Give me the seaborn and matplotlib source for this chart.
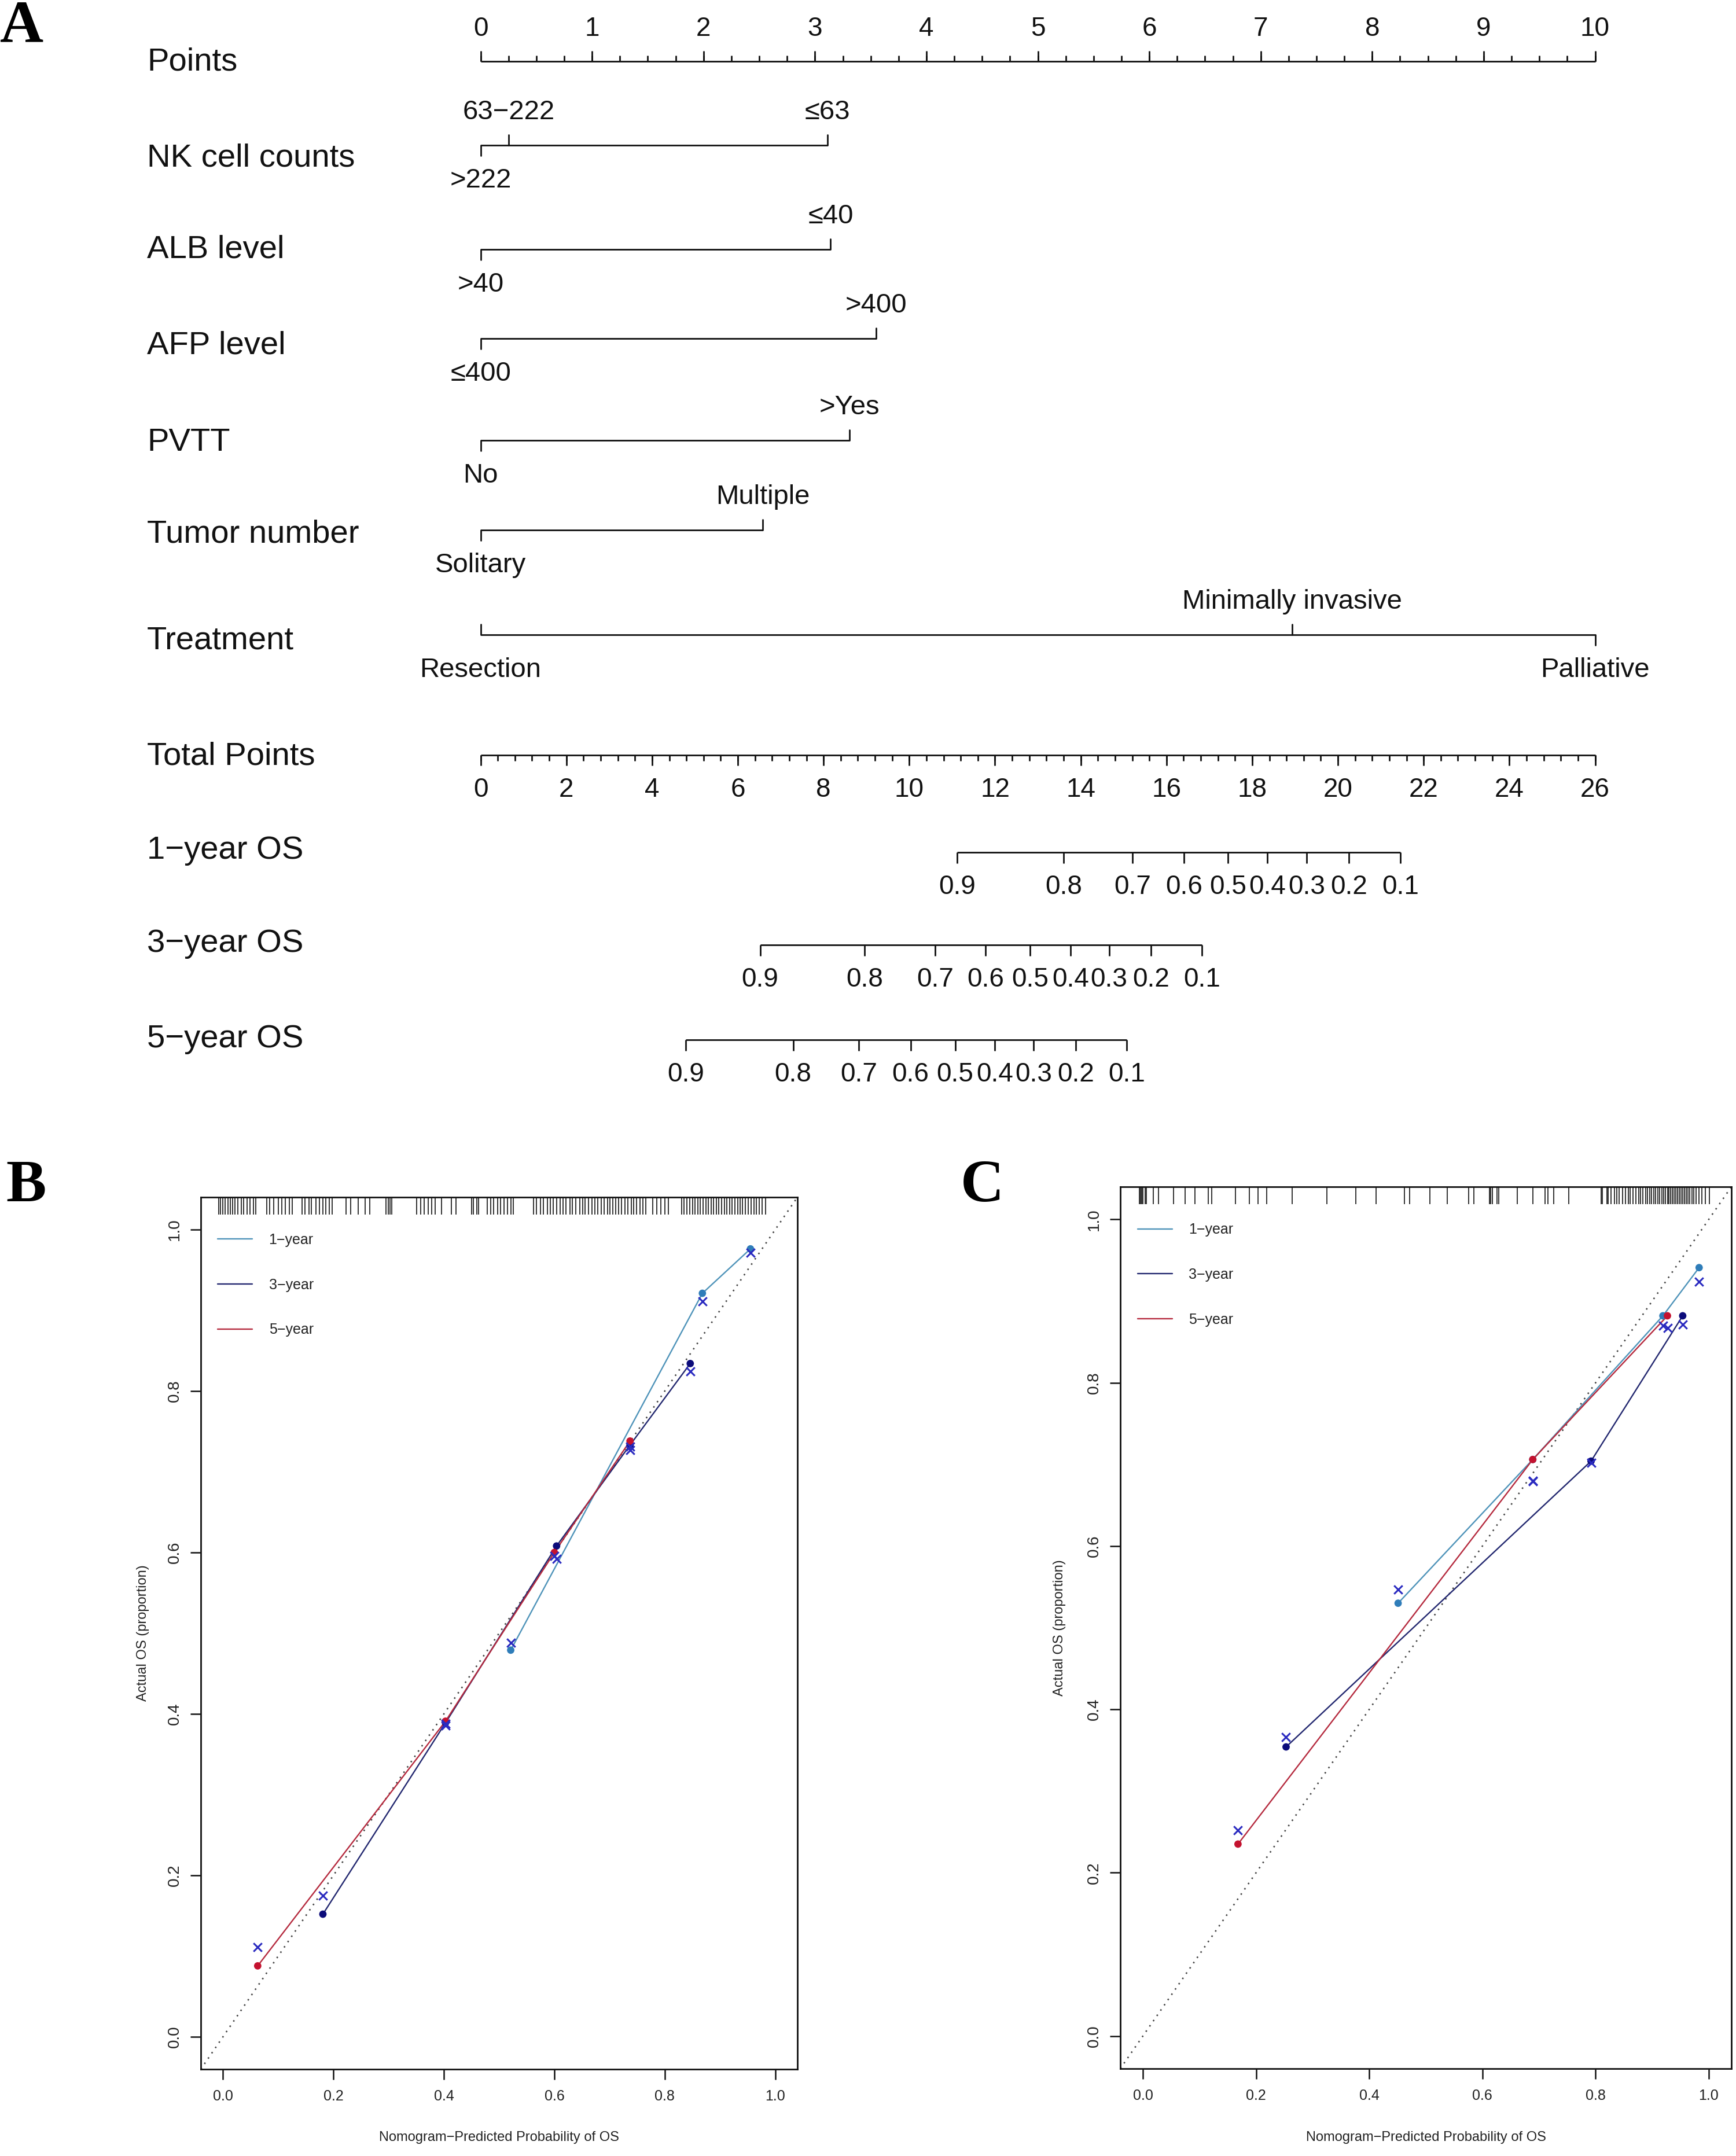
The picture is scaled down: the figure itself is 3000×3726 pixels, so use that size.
import numpy as np
import pandas as pd
import matplotlib
matplotlib.use("Agg")
import matplotlib.pyplot as plt
from matplotlib.ticker import FormatStrFormatter
import seaborn as sns

W, H = 3000, 3726

# ---------------- panel A : nomogram values (points scale 0-10) ----------------
nk_levels = [">222", "63\u2212222", "\u226463"]
nk_points = [0.0, 0.25, 3.11]
alb_levels = [">40", "\u226440"]
alb_points = [0.0, 3.14]
afp_levels = ["\u2264400", ">400"]
afp_points = [0.0, 3.55]
pvtt_levels = ["No", ">Yes"]
pvtt_points = [0.0, 3.31]
tumor_levels = ["Solitary", "Multiple"]
tumor_points = [0.0, 2.53]
treat_levels = ["Resection", "Minimally invasive", "Palliative"]
treat_points = [0.0, 7.28, 10.0]

os_probs = [0.9, 0.8, 0.7, 0.6, 0.5, 0.4, 0.3, 0.2, 0.1]
os1_total = [11.12, 13.60, 15.21, 16.41, 17.43, 18.35, 19.27, 20.26, 21.46]
os3_total = [6.52, 8.96, 10.60, 11.78, 12.82, 13.76, 14.66, 15.64, 16.83]
os5_total = [4.78, 7.29, 8.82, 10.03, 11.07, 12.00, 12.90, 13.88, 15.07]

# ---------------- panels B / C : calibration values ----------------
years = ["1-year", "3-year", "5-year"]

b_pred = {"1-year": [0.521, 0.868, 0.955],
          "3-year": [0.181, 0.403, 0.604, 0.737, 0.846],
          "5-year": [0.063, 0.403, 0.600, 0.737]}
b_obs = {"1-year": [0.479, 0.921, 0.976],
         "3-year": [0.152, 0.389, 0.608, 0.733, 0.834],
         "5-year": [0.088, 0.391, 0.600, 0.738]}
b_corr = {"1-year": [0.488, 0.911, 0.971],
          "3-year": [0.175, 0.386, 0.592, 0.727, 0.824],
          "5-year": [0.111, 0.388, 0.596, 0.731]}

c_pred = {"1-year": [0.451, 0.689, 0.919, 0.983],
          "3-year": [0.253, 0.792, 0.954],
          "5-year": [0.168, 0.689, 0.927]}
c_obs = {"1-year": [0.530, 0.706, 0.882, 0.941],
         "3-year": [0.354, 0.704, 0.882],
         "5-year": [0.235, 0.706, 0.882]}
c_corr = {"1-year": [0.547, 0.680, 0.870, 0.924],
          "3-year": [0.366, 0.702, 0.871],
          "5-year": [0.252, 0.679, 0.867]}

b_rug = [-0.008, -0.004, 0.000, 0.004, 0.009, 0.013, 0.018, 0.022, 0.027, 0.033,
         0.038, 0.044, 0.049, 0.055, 0.060, 0.079, 0.085, 0.092, 0.100, 0.107,
         0.113, 0.120, 0.126, 0.143, 0.149, 0.156, 0.160, 0.168, 0.175, 0.181,
         0.186, 0.193, 0.198, 0.223, 0.231, 0.245, 0.258, 0.266, 0.295, 0.299,
         0.303, 0.306, 0.351, 0.358, 0.364, 0.372, 0.378, 0.384, 0.396, 0.414,
         0.422, 0.450, 0.453, 0.460, 0.463, 0.479, 0.485, 0.490, 0.497, 0.503,
         0.509, 0.515, 0.521, 0.526, 0.562, 0.568, 0.575, 0.580, 0.587, 0.593,
         0.598, 0.604, 0.611, 0.616, 0.621, 0.628, 0.633, 0.639, 0.646, 0.651,
         0.656, 0.662, 0.668, 0.673, 0.679, 0.685, 0.690, 0.696, 0.701, 0.706,
         0.711, 0.716, 0.722, 0.728, 0.733, 0.739, 0.744, 0.749, 0.755, 0.760,
         0.766, 0.778, 0.785, 0.793, 0.800, 0.806, 0.830, 0.835, 0.840, 0.845,
         0.850, 0.855, 0.860, 0.864, 0.869, 0.874, 0.879, 0.884, 0.888, 0.893,
         0.898, 0.903, 0.908, 0.912, 0.917, 0.922, 0.927, 0.932, 0.936, 0.941,
         0.946, 0.951, 0.956, 0.961, 0.966, 0.971, 0.976, 0.982]
c_rug = [-0.006, -0.004, -0.002, 0.000, 0.004, 0.006, 0.018, 0.028, 0.054, 0.075,
         0.092, 0.115, 0.122, 0.164, 0.188, 0.203, 0.219, 0.264, 0.325, 0.376,
         0.412, 0.462, 0.471, 0.507, 0.538, 0.576, 0.585, 0.612, 0.615, 0.618,
         0.626, 0.629, 0.662, 0.689, 0.711, 0.716, 0.726, 0.753, 0.810, 0.812,
         0.820, 0.822, 0.827, 0.833, 0.838, 0.842, 0.848, 0.853, 0.858, 0.861,
         0.866, 0.871, 0.876, 0.879, 0.884, 0.889, 0.892, 0.896, 0.899, 0.903,
         0.906, 0.910, 0.913, 0.917, 0.920, 0.923, 0.927, 0.930, 0.933, 0.936,
         0.939, 0.942, 0.945, 0.948, 0.951, 0.954, 0.957, 0.960, 0.963, 0.966,
         0.970, 0.974, 0.978, 0.983, 0.988, 0.994, 1.001]

line_pal = {"1-year": "#4E93B9", "3-year": "#22276F", "5-year": "#B52A3E"}
dot_pal = {"1-year": "#2F7DB9", "3-year": "#0B0B7A", "5-year": "#C4122F"}
cross_col = "#2B2BC0"

sns.set_theme(style="white")
plt.rcParams["font.family"] = ["Liberation Sans", "DejaVu Sans"]
plt.rcParams["axes.unicode_minus"] = True

fig = plt.figure(figsize=(W / 100, H / 100), dpi=100)


def nx(px):
    # figure pixel column -> nomogram points units
    return (px - 830.6) / 192.59


# ---------------- panel A ----------------
TOP = 1900
axA = fig.add_axes([0, 1 - TOP / H, 1, TOP / H])
axA.set_xlim(nx(0), nx(W))
axA.set_ylim(TOP, 0)
axA.axis("off")

LW = 2.0
K = "#111111"
lab_x = nx(254)
FS_ROW, FS_NUM, FS_CAT = 40.5, 33, 34

# points scale
py = 106
axA.plot([0, 10], [py, py], color=K, lw=LW, solid_capstyle="butt")
axA.vlines(np.arange(0, 10.01, 0.25), py - 10, py, color=K, lw=LW)
axA.vlines(np.arange(0, 11), py - 18, py, color=K, lw=LW)
for v in range(11):
    axA.text(v, 50, str(v), ha="center", va="center", fontsize=FS_NUM, color=K)
axA.text(lab_x, 107, "Points", ha="left", va="center", fontsize=FS_ROW, color=K)

# (title, label y, line y, levels, points, label side, tick side)
variables = [
    ("NK cell counts", 274, 251, nk_levels, nk_points, [-1, 1, 1], [-1, 1, 1]),
    ("ALB level", 432, 431, alb_levels, alb_points, [-1, 1], [-1, 1]),
    ("AFP level", 597, 585, afp_levels, afp_points, [-1, 1], [-1, 1]),
    ("PVTT", 765, 761, pvtt_levels, pvtt_points, [-1, 1], [-1, 1]),
    ("Tumor number", 923, 916, tumor_levels, tumor_points, [-1, 1], [-1, 1]),
    ("Treatment", 1108, 1097, treat_levels, treat_points, [-1, 1, -1], [1, 1, -1]),
]
for title, ly, y, levels, pts, sides, tdir in variables:
    axA.text(lab_x, ly, title, ha="left", va="center", fontsize=FS_ROW, color=K)
    axA.plot([min(pts), max(pts)], [y, y], color=K, lw=LW, solid_capstyle="butt")
    for lev, p, s, t in zip(levels, pts, sides, tdir):
        axA.plot([p, p], [y, y - 18 * t], color=K, lw=LW)
        ty = y - 57 if s > 0 else y + 61
        axA.text(p, ty, lev, ha="center", va="center", fontsize=FS_CAT, color=K)

# total points scale (0-26 mapped on 0-10)
ty0 = 1305
axA.text(lab_x, 1307, "Total Points", ha="left", va="center", fontsize=FS_ROW, color=K)
axA.plot([0, 10], [ty0, ty0], color=K, lw=LW, solid_capstyle="butt")
axA.vlines(np.arange(0, 26.01, 0.4) / 2.6, ty0, ty0 + 10, color=K, lw=LW)
axA.vlines(np.arange(0, 27, 2) / 2.6, ty0, ty0 + 18, color=K, lw=LW)
for v in range(0, 27, 2):
    axA.text(v / 2.6, 1365, str(v), ha="center", va="center", fontsize=FS_NUM, color=K)

os_rows = [("1\u2212year OS", 1470, 1473, os1_total),
           ("3\u2212year OS", 1631, 1633, os3_total),
           ("5\u2212year OS", 1796, 1797, os5_total)]
for title, ly, y, tot in os_rows:
    axA.text(lab_x, ly, title, ha="left", va="center", fontsize=FS_ROW, color=K)
    xs = np.array(tot) / 2.6
    axA.plot([xs.min(), xs.max()], [y, y], color=K, lw=LW, solid_capstyle="butt")
    axA.vlines(xs, y, y + 19, color=K, lw=LW)
    for p, xv in zip(os_probs, xs):
        axA.text(xv, y + 60, f"{p:.1f}", ha="center", va="center", fontsize=FS_NUM, color=K)


# ---------------- panels B and C ----------------
def long_df(pred, obs, corr):
    rows = []
    for yr in years:
        for p, o, c in zip(pred[yr], obs[yr], corr[yr]):
            rows.append({"year": yr, "pred": p, "obs": o, "corr": c})
    return pd.DataFrame(rows)


def calib_panel(rect, pred, obs, corr, rug, ylab_x):
    ax = fig.add_axes(rect)
    df = long_df(pred, obs, corr)
    ax.axline((0, 0), slope=1, color="#444444", lw=1.9, ls=(0, (1, 3.2)), zorder=1)
    sns.lineplot(data=df, x="pred", y="obs", hue="year", hue_order=years,
                 palette=line_pal, sort=False, estimator=None, lw=1.7, ax=ax, zorder=2)
    sns.scatterplot(data=df, x="pred", y="obs", hue="year", hue_order=years,
                    palette=dot_pal, s=85, edgecolor="none", legend=False, ax=ax, zorder=3)
    sns.scatterplot(data=df, x="pred", y="corr", color=cross_col, marker="x",
                    s=110, linewidth=2.2, legend=False, ax=ax, zorder=4)
    ax.vlines(rug, 0.98, 1.0, transform=ax.get_xaxis_transform(),
              color="black", lw=1.4, alpha=0.8)
    ax.set_xlim(-0.04, 1.04)
    ax.set_ylim(-0.04, 1.04)
    ticks = [0.0, 0.2, 0.4, 0.6, 0.8, 1.0]
    ax.set_xticks(ticks)
    ax.set_yticks(ticks)
    ax.xaxis.set_major_formatter(FormatStrFormatter("%.1f"))
    ax.yaxis.set_major_formatter(FormatStrFormatter("%.1f"))
    ax.tick_params(axis="both", which="major", direction="out", bottom=True, left=True,
                   length=13, width=1.8, color="#111111", labelcolor="#222222")
    ax.tick_params(axis="x", labelsize=18, pad=12)
    ax.tick_params(axis="y", labelsize=20, pad=10)
    plt.setp(ax.get_yticklabels(), rotation=90, va="center")
    for sp in ax.spines.values():
        sp.set_visible(True)
        sp.set_color("#111111")
        sp.set_linewidth(2.0)
    ax.set_xlabel("Nomogram\u2212Predicted Probability of OS", fontsize=17, color="#222222")
    ax.set_ylabel("Actual OS (proportion)", fontsize=17, color="#222222")
    ax.xaxis.set_label_coords(0.5, -0.078)
    ax.xaxis.label.set_va("center")
    ax.yaxis.set_label_coords(ylab_x, 0.5)
    ax.yaxis.label.set_va("center")
    handles, labels = ax.get_legend_handles_labels()
    labels = [l.replace("-", "\u2212") for l in labels]
    leg = ax.legend(handles, labels, loc="upper left", bbox_to_anchor=(0.028, 0.959),
                    frameon=False, fontsize=18, handlelength=2.4, handletextpad=1.15,
                    labelspacing=2.15, borderaxespad=0, borderpad=0)
    for t in leg.get_texts():
        t.set_color("#222222")
    return ax


calib_panel([347 / W, 1 - 3576 / H, 1031 / W, 1507 / H], b_pred, b_obs, b_corr, b_rug, -0.097)
calib_panel([1936 / W, 1 - 3575 / H, 1056 / W, 1524 / H], c_pred, c_obs, c_corr, c_rug, -0.099)

# panel letters
for letter, x, y in [("A", 0, 0), ("B", 10, 2004), ("C", 1660, 2004)]:
    fig.text(x / W, 1 - y / H, letter, ha="left", va="top", fontsize=75,
             fontweight="bold", family="Liberation Serif", color="black")

fig.savefig("out.png", dpi=100, facecolor="white")
